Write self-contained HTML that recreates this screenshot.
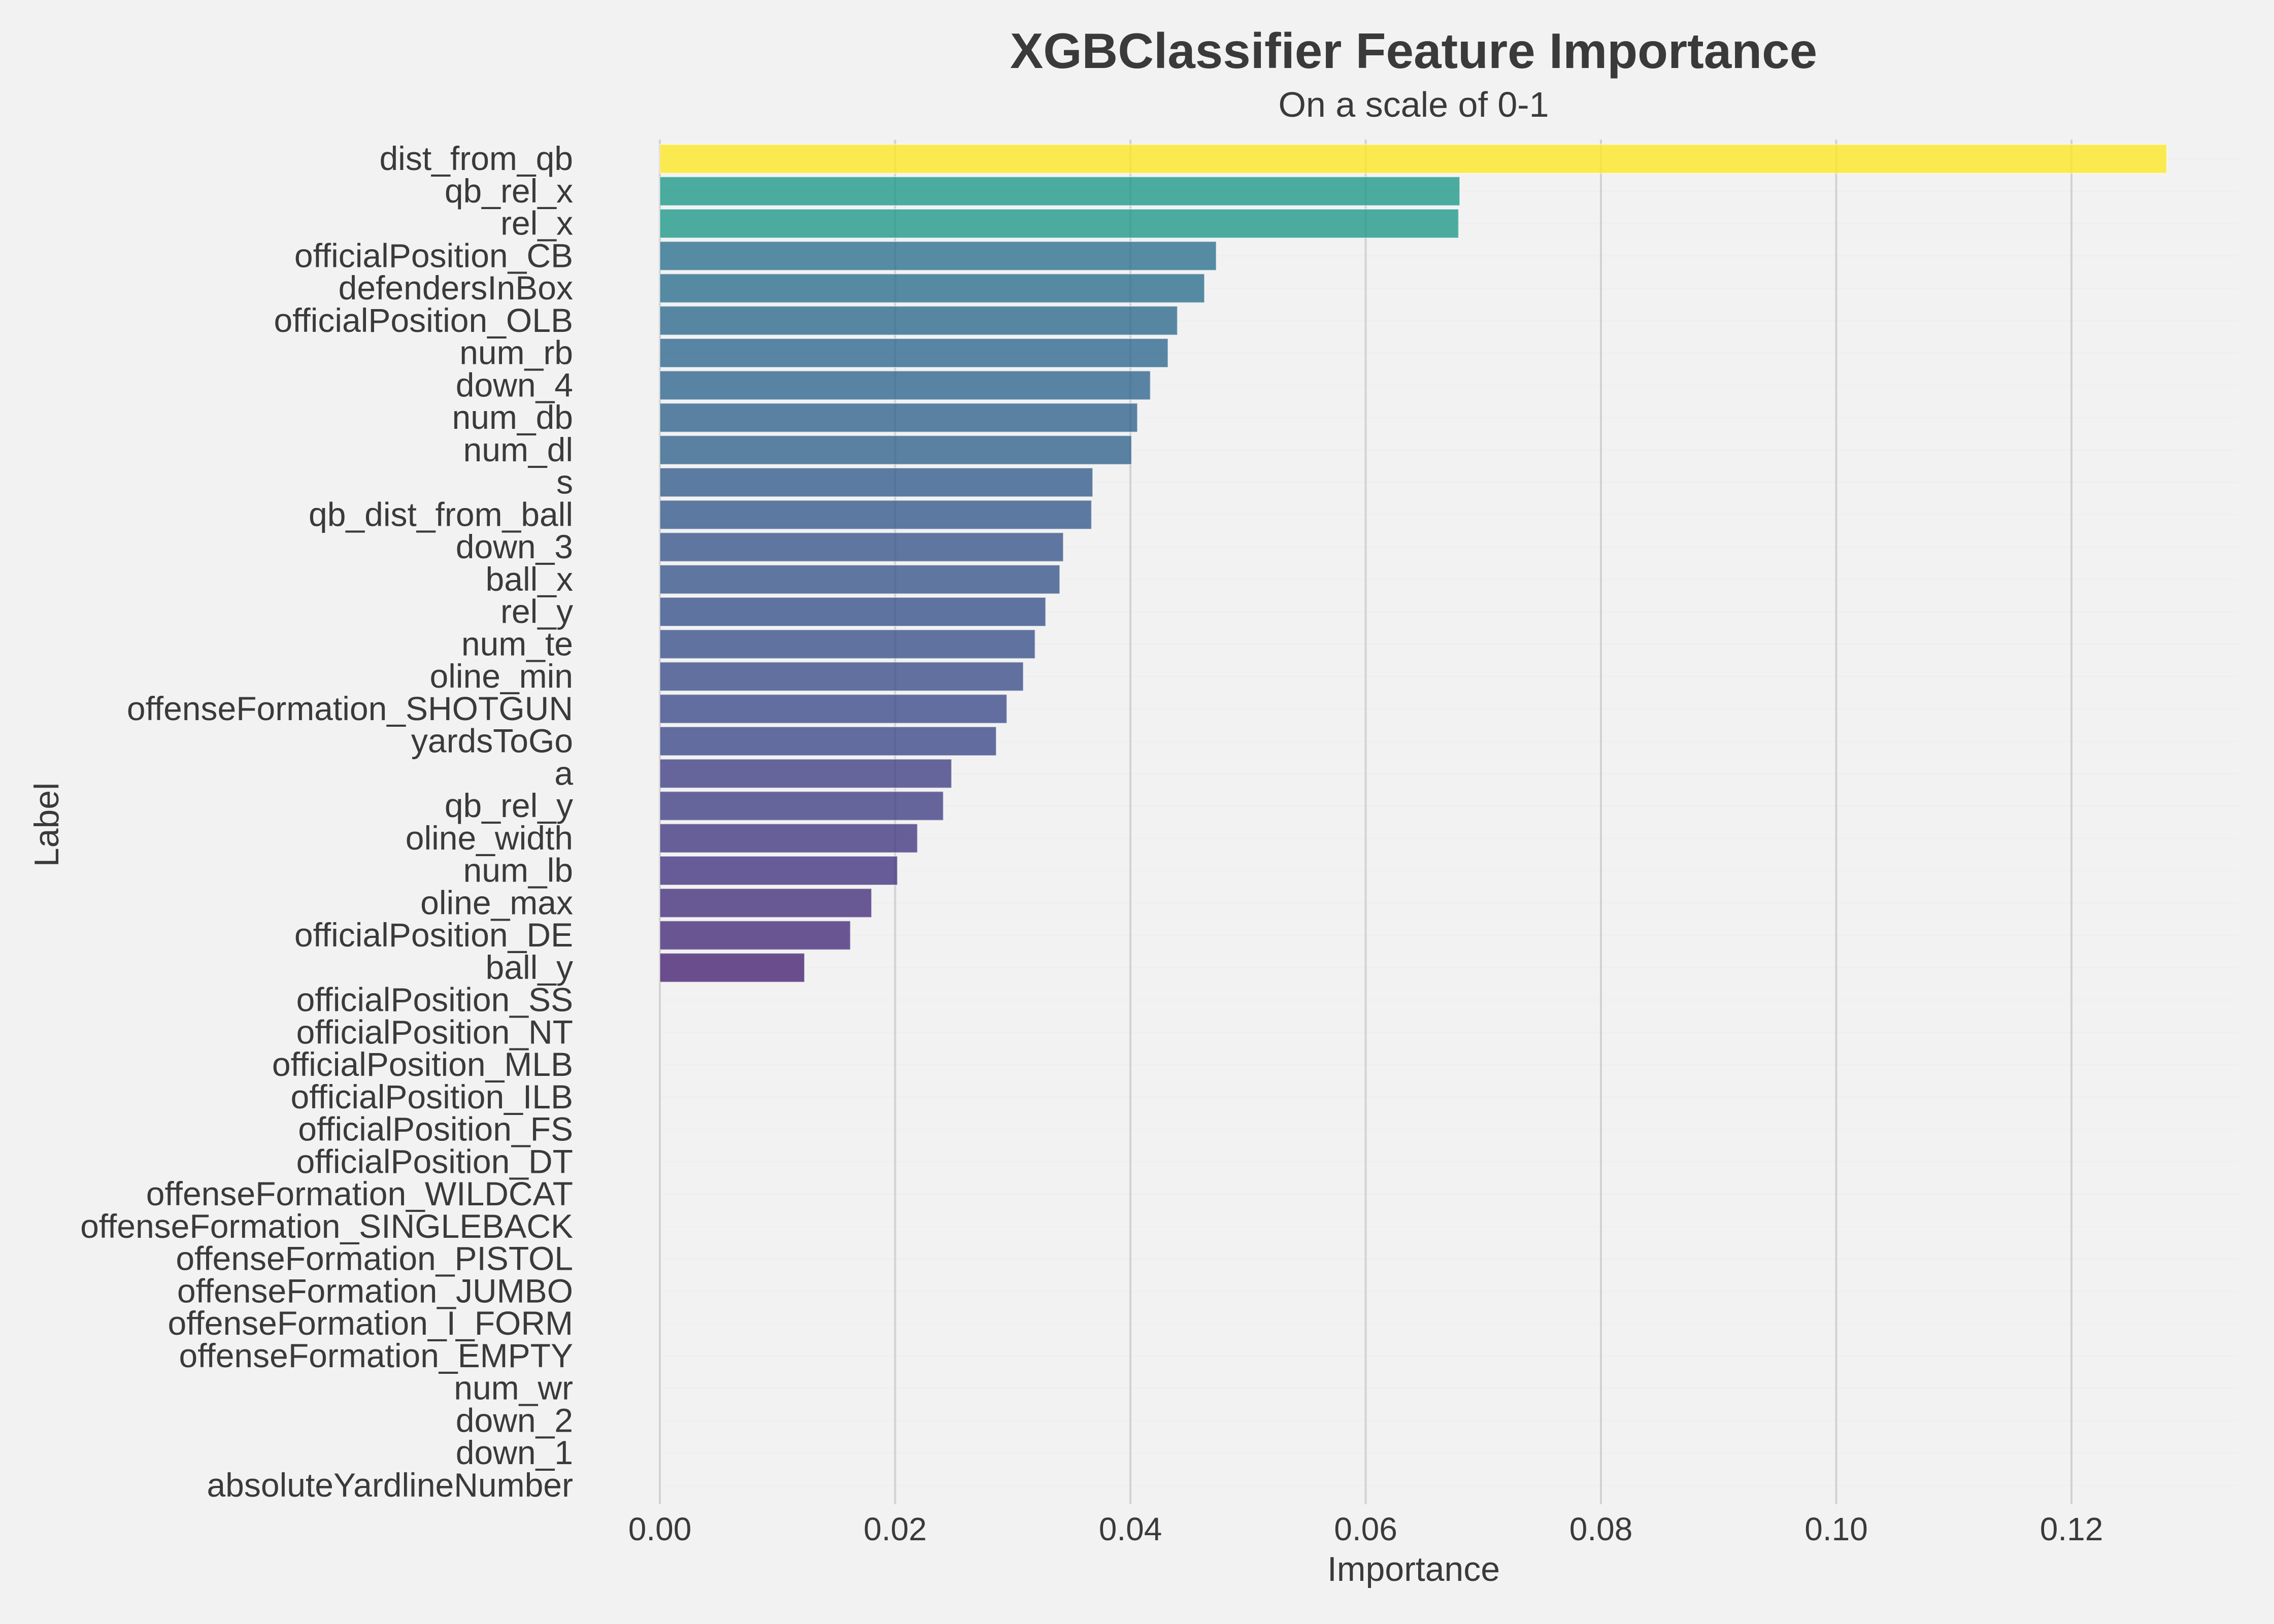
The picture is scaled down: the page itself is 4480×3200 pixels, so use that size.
<!DOCTYPE html>
<html><head><meta charset="utf-8"><style>
html,body{margin:0;padding:0;background:#f2f2f2;}
svg{display:block;font-family:"Liberation Sans",Arial,sans-serif;}
</style></head><body>
<svg id="chart" width="4480" height="3200" viewBox="0 0 4480 3200" xmlns="http://www.w3.org/2000/svg">
<rect x="0" y="0" width="4480" height="3200" fill="#f2f2f2"/>
<g id="grid"></g>
<g id="bars"></g>
<g id="ylabels"></g>
<g id="xticks"></g>
<text x="2785" y="134" text-anchor="middle" font-size="98" font-weight="bold" fill="#3a3a3a">XGBClassifier Feature Importance</text>
<text x="2785" y="230" text-anchor="middle" font-size="70" fill="#3a3a3a">On a scale of 0-1</text>
<text x="2785" y="3115" text-anchor="middle" font-size="68" fill="#3a3a3a">Importance</text>
<text x="0" y="0" transform="translate(115,1625) rotate(-90)" text-anchor="middle" font-size="68" fill="#3a3a3a">Label</text>
</svg>
<script>
const categories = ["dist_from_qb","qb_rel_x","rel_x","officialPosition_CB","defendersInBox","officialPosition_OLB","num_rb","down_4","num_db","num_dl","s","qb_dist_from_ball","down_3","ball_x","rel_y","num_te","oline_min","offenseFormation_SHOTGUN","yardsToGo","a","qb_rel_y","oline_width","num_lb","oline_max","officialPosition_DE","ball_y","officialPosition_SS","officialPosition_NT","officialPosition_MLB","officialPosition_ILB","officialPosition_FS","officialPosition_DT","offenseFormation_WILDCAT","offenseFormation_SINGLEBACK","offenseFormation_PISTOL","offenseFormation_JUMBO","offenseFormation_I_FORM","offenseFormation_EMPTY","num_wr","down_2","down_1","absoluteYardlineNumber"];
const importance = [0.1281,0.0680,0.0679,0.0473,0.0463,0.0440,0.0432,0.0417,0.0406,0.0401,0.0368,0.0367,0.0343,0.0340,0.0328,0.0319,0.0309,0.0295,0.0286,0.0248,0.0241,0.0219,0.0202,0.0180,0.0162,0.0123,0,0,0,0,0,0,0,0,0,0,0,0,0,0,0,0];
const xTicks = [0,0.02,0.04,0.06,0.08,0.10,0.12];
const xTickLabels = ["0.00","0.02","0.04","0.06","0.08","0.10","0.12"];

const NS="http://www.w3.org/2000/svg";
const X0=1300, PX_PER_UNIT=23175, ROW0=313, PITCH=63.75, BAR_H=57;
const PLOT_TOP=275, PLOT_BOTTOM=2964, PLOT_RIGHT=4290;
function xScale(v){return X0+v*PX_PER_UNIT;}
function yScale(i){return ROW0+i*PITCH;}
const vir=[[68,1,84],[72,40,120],[62,74,137],[49,104,142],[38,130,142],[31,158,137],[53,183,121],[109,205,89],[180,222,44],[253,231,37]];
function viridis(t){t=Math.max(0,Math.min(1,t));const p=t*(vir.length-1);const i=Math.min(Math.floor(p),vir.length-2);const f=p-i;
 const c=vir[i].map((a,k)=>Math.round(a+(vir[i+1][k]-a)*f));return `rgb(${c[0]},${c[1]},${c[2]})`;}
function mk(tag,attrs,parent){const e=document.createElementNS(NS,tag);for(const k in attrs)e.setAttribute(k,attrs[k]);parent.appendChild(e);return e;}

const grid=document.getElementById('grid');
categories.forEach((c,i)=>{
 const l=mk('line',{x1:1300,x2:PLOT_RIGHT+120,y1:yScale(i),y2:yScale(i),stroke:'#eeeeee','stroke-width':2},grid);
 
 
});
xTicks.forEach((t,i)=>{
 const l=mk('line',{x1:xScale(t),x2:xScale(t),y1:PLOT_TOP,y2:PLOT_BOTTOM,stroke:'#d2d2d2','stroke-width':4},grid);
 
 
 const tx=mk('text',{x:xScale(t),y:3035,'text-anchor':'middle','font-size':64,fill:'#3a3a3a'},document.getElementById('xticks'));
 tx.textContent=xTickLabels[i];
 
 
});
const maxV=Math.max(...importance);
const bars=document.getElementById('bars'), yl=document.getElementById('ylabels');
categories.forEach((c,i)=>{
 const v=importance[i];
 if(v>0){
  const r=mk('rect',{x:xScale(0),y:yScale(i)-BAR_H/2,width:xScale(v)-xScale(0),height:BAR_H,fill:viridis(v/maxV),'fill-opacity':0.8,stroke:'#ffffff','stroke-opacity':0.5,'stroke-width':2},bars);
  
  
 }
 const t=mk('text',{x:1129,y:yScale(i)+22,'text-anchor':'end','font-size':66,fill:'#3a3a3a'},yl);
 t.textContent=c;
 
 
});
</script>
</body></html>
